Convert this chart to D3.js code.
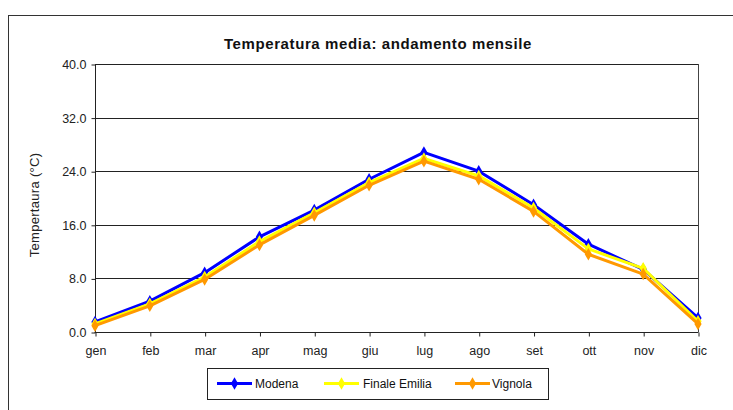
<!DOCTYPE html>
<html><head><meta charset="utf-8">
<script src="https://cdn.jsdelivr.net/npm/d3@7"></script>
<style>body{margin:0;background:#fff;} text{font-family:"Liberation Sans",Arial,sans-serif;}</style>
</head><body>
<svg id="c" width="733" height="410"></svg>
<script>
const months = ["gen","feb","mar","apr","mag","giu","lug","ago","set","ott","nov","dic"];
const modena = [1.5, 4.6, 8.85, 14.2, 18.2, 22.8, 26.8, 24.0, 19.0, 13.1, 9.35, 2.1];
const finale = [1.2, 4.2, 8.2, 13.5, 17.8, 22.3, 25.9, 23.3, 18.5, 12.4, 9.5, 1.6];
const vignola = [0.95, 3.9, 7.85, 13.0, 17.4, 21.9, 25.5, 22.8, 18.0, 11.6, 8.65, 1.2];
const yTicks = [0, 8, 16, 24, 32, 40];
const seriesNames = ["Modena", "Finale Emilia", "Vignola"];
const seriesColors = ["#0000ff", "#ffff00", "#ff9900"];
const seriesData = [modena, finale, vignola];

const svg = d3.select("#c");
// outer frame
svg.append("rect").attr("x", 8.5).attr("y", 15.5).attr("width", 760).attr("height", 420)
  .attr("fill", "none").attr("stroke", "#333").attr("stroke-width", 1);

const x = d3.scalePoint().domain(months).range([95, 698]);
const y = d3.scaleLinear().domain([0, 40]).range([332, 64]);

// gridlines
svg.append("g").selectAll("line").data(yTicks.filter(d => d > 0)).join("line")
  .attr("x1", 95).attr("x2", 698)
  .attr("y1", d => Math.round(y(d)) + 0.5).attr("y2", d => Math.round(y(d)) + 0.5)
  .attr("stroke", "#222").attr("stroke-width", 1);
// right border of plot
svg.append("line").attr("x1", 698.5).attr("x2", 698.5).attr("y1", 64).attr("y2", 332)
  .attr("stroke", "#444");

// y axis
const yAxis = d3.axisLeft(y).tickValues(yTicks).tickFormat(d3.format(".1f")).tickSize(4).tickPadding(5);
const gy = svg.append("g").attr("transform", "translate(95.5,0.5)").call(yAxis);
gy.selectAll("text").attr("font-size", 12.5).attr("fill", "#222").style("font-family", "Liberation Sans, Arial, sans-serif");
gy.selectAll("line,path").attr("stroke", "#222");
gy.select(".domain").attr("d", "M0,64V332");

// x axis
const xAxis = d3.axisBottom(x).tickSize(4).tickPadding(10);
const gx = svg.append("g").attr("transform", "translate(0.5,332.5)").call(xAxis);
gx.selectAll("text").attr("font-size", 12.5).attr("fill", "#222").style("font-family", "Liberation Sans, Arial, sans-serif");
gx.selectAll("line,path").attr("stroke", "#222");
gx.select(".domain").attr("d", "M94,0H698");

// title
svg.append("text").attr("x", 378).attr("y", 49).attr("text-anchor", "middle")
  .attr("font-size", 15).attr("font-weight", "bold").attr("fill", "#111")
  .attr("letter-spacing", 0.6)
  .text("Temperatura media: andamento mensile");
// y label
svg.append("text").attr("transform", "translate(39,205) rotate(-90)").attr("text-anchor", "middle")
  .attr("font-size", 13).attr("letter-spacing", 0.3).attr("fill", "#222").text("Tempertaura (°C)");

const line = d3.line().x((d, i) => x(months[i])).y(d => y(d));
const diamond = d3.symbol().type(d3.symbolDiamond).size(45);

seriesData.forEach((data, si) => {
  const g = svg.append("g");
  g.append("path").datum(data).attr("d", line).attr("fill", "none")
    .attr("stroke", seriesColors[si]).attr("stroke-width", 3).attr("stroke-linejoin", "round");
  g.selectAll("path.m").data(data).join("path").attr("class", "m")
    .attr("d", diamond).attr("fill", seriesColors[si])
    .attr("transform", (d, i) => `translate(${x(months[i])},${y(d)})`);
});

// legend
const lg = svg.append("g");
lg.append("rect").attr("x", 207.5).attr("y", 368.5).attr("width", 341).attr("height", 31)
  .attr("fill", "#fff").attr("stroke", "#222");
const legX = [217, 324, 455];
const legTextX = [255, 363, 492];
seriesNames.forEach((n, i) => {
  lg.append("line").attr("x1", legX[i]).attr("x2", legX[i] + 35).attr("y1", 383.5).attr("y2", 383.5)
    .attr("stroke", seriesColors[i]).attr("stroke-width", 3);
  lg.append("path").attr("d", diamond).attr("fill", seriesColors[i])
    .attr("transform", `translate(${legX[i] + 17.5},383.5)`);
  lg.append("text").attr("x", legTextX[i]).attr("y", 388).attr("font-size", 12).attr("fill", "#111").text(n);
});
</script>
</body></html>
